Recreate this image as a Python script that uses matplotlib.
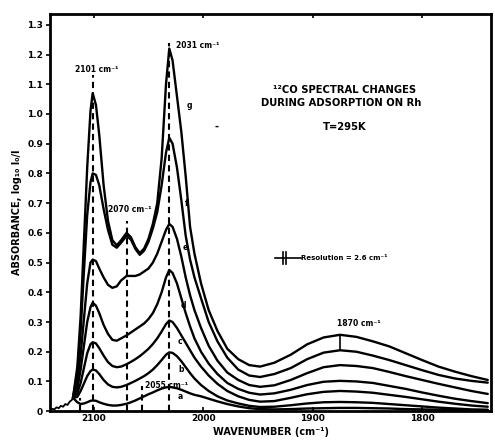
import matplotlib
matplotlib.use("Agg")
import matplotlib.pyplot as plt

plt.rcParams['font.family'] = ['DejaVu Sans']
plt.rcParams['font.weight'] = 'bold'

# ---- data ----
wavenumber = [2119, 2115, 2112, 2109, 2106, 2103, 2101, 2098, 2095, 2091,
              2087, 2083, 2079, 2075, 2070, 2066, 2062, 2058, 2054, 2050,
              2046, 2042, 2038, 2034, 2031, 2028, 2024, 2020, 2016, 2012,
              2008, 2002, 1995, 1987, 1978, 1968, 1958, 1948, 1935, 1920,
              1905, 1890, 1875, 1860, 1845, 1830, 1815, 1800, 1785, 1770,
              1755, 1740]

curve_g = [0.045, 0.15, 0.32, 0.57, 0.82, 1.01, 1.07, 1.03, 0.93, 0.76,
           0.64, 0.575, 0.558, 0.575, 0.60, 0.585, 0.552, 0.532, 0.547, 0.58,
           0.63, 0.70, 0.85, 1.10, 1.22, 1.18, 1.06, 0.94, 0.79, 0.62,
           0.53, 0.43, 0.34, 0.27, 0.21, 0.175, 0.155, 0.15, 0.163, 0.19,
           0.225, 0.248, 0.257, 0.25, 0.235, 0.218, 0.195, 0.172, 0.15, 0.133,
           0.118, 0.105]
curve_f = [0.045, 0.13, 0.27, 0.47, 0.66, 0.77, 0.80, 0.795, 0.76, 0.68,
           0.61, 0.56, 0.55, 0.567, 0.59, 0.577, 0.546, 0.526, 0.54, 0.57,
           0.615, 0.67, 0.76, 0.87, 0.92, 0.90, 0.82, 0.71, 0.59, 0.51,
           0.45, 0.38, 0.30, 0.235, 0.18, 0.14, 0.12, 0.115, 0.125, 0.145,
           0.175, 0.197, 0.205, 0.20, 0.187, 0.172, 0.155, 0.138, 0.122, 0.11,
           0.102, 0.096]
curve_e = [0.045, 0.10, 0.19, 0.31, 0.43, 0.50, 0.51, 0.505, 0.48, 0.45,
           0.425, 0.415, 0.42, 0.44, 0.455, 0.455, 0.455, 0.46, 0.47, 0.48,
           0.50, 0.53, 0.57, 0.61, 0.63, 0.62, 0.58, 0.52, 0.45, 0.39,
           0.34, 0.28, 0.22, 0.17, 0.13, 0.105, 0.088, 0.082, 0.087, 0.105,
           0.128, 0.148, 0.155, 0.152, 0.145, 0.132, 0.118, 0.105, 0.092, 0.08,
           0.068, 0.058]
curve_d = [0.045, 0.075, 0.14, 0.22, 0.30, 0.35, 0.365, 0.355, 0.33, 0.29,
           0.26, 0.24, 0.237, 0.245, 0.255, 0.265, 0.275, 0.285, 0.295, 0.31,
           0.33, 0.36, 0.40, 0.45, 0.475, 0.465, 0.43, 0.38, 0.33, 0.285,
           0.245, 0.20, 0.16, 0.125, 0.095, 0.075, 0.062, 0.056, 0.06, 0.072,
           0.088, 0.099, 0.102, 0.10, 0.095, 0.085, 0.075, 0.063, 0.052, 0.042,
           0.034, 0.027]
curve_c = [0.045, 0.06, 0.095, 0.145, 0.195, 0.225, 0.232, 0.228, 0.212, 0.187,
           0.165, 0.152, 0.148, 0.15, 0.158, 0.166, 0.175, 0.185, 0.197, 0.21,
           0.226, 0.245, 0.268, 0.293, 0.305, 0.30, 0.28, 0.255, 0.23, 0.205,
           0.18, 0.15, 0.12, 0.092, 0.068, 0.05, 0.038, 0.032, 0.034, 0.045,
           0.057, 0.065, 0.068, 0.066, 0.062, 0.055, 0.048, 0.04, 0.032, 0.025,
           0.019, 0.015]
curve_b = [0.045, 0.048, 0.068, 0.093, 0.118, 0.135, 0.14, 0.137, 0.125, 0.105,
           0.09, 0.082, 0.08, 0.082, 0.088, 0.095, 0.102, 0.11, 0.118, 0.128,
           0.14, 0.155, 0.172, 0.19, 0.198, 0.196, 0.185, 0.168, 0.148, 0.128,
           0.11, 0.088, 0.068, 0.05, 0.036, 0.026, 0.018, 0.014, 0.015, 0.02,
           0.026, 0.03, 0.031, 0.03, 0.028, 0.024, 0.02, 0.016, 0.012, 0.009,
           0.006, 0.005]
curve_a = [0.045, 0.03, 0.024, 0.026, 0.03, 0.035, 0.036, 0.035, 0.03, 0.025,
           0.021, 0.019, 0.019, 0.021, 0.025, 0.03, 0.036, 0.043, 0.05, 0.057,
           0.063, 0.07, 0.076, 0.08, 0.082, 0.08, 0.077, 0.072, 0.066, 0.06,
           0.055, 0.05, 0.042, 0.033, 0.024, 0.016, 0.01, 0.007, 0.006, 0.007,
           0.009, 0.01, 0.011, 0.011, 0.01, 0.009, 0.007, 0.006, 0.005, 0.004,
           0.003, 0.002]

# noisy common baseline before the 2101 band
baseline_w = [2140, 2138, 2136, 2134, 2132, 2130, 2128, 2126, 2124, 2122, 2120, 2119]
baseline_abs = [0.004, 0.008, 0.006, 0.013, 0.010, 0.018, 0.015, 0.024, 0.021, 0.032, 0.038, 0.045]

curves = {"a": curve_a, "b": curve_b, "c": curve_c, "d": curve_d,
          "e": curve_e, "f": curve_f, "g": curve_g}

# curve letter labels (wavenumber, absorbance)
letter_names = ["a", "b", "c", "d", "e", "f", "g"]
letter_w = [2023, 2023, 2023, 2021, 2019, 2017, 2015]
letter_abs = [0.05, 0.14, 0.235, 0.355, 0.55, 0.70, 1.03]

# dashed marker lines
dash_w = [2113, 2101, 2070, 2056, 2031]
dash_top = [0.045, 1.13, 0.64, 0.085, 1.24]

# peak annotations
peak_text = ["2101 cm⁻¹", "2031 cm⁻¹", "2070 cm⁻¹", "1870 cm⁻¹", "2055 cm⁻¹"]
peak_w = [2097, 2025, 2067, 1858, 2053]
peak_abs = [1.15, 1.232, 0.677, 0.295, 0.088]
peak_ha = ["center", "left", "center", "center", "left"]

x_ticks = [2100, 2000, 1900, 1800]
y_ticks = [0, 0.1, 0.2, 0.3, 0.4, 0.5, 0.6, 0.7, 0.8, 0.9, 1.0, 1.1, 1.2, 1.3]
y_tick_labels = ["0", "0.1", "0.2", "0.3", "0.4", "0.5", "0.6", "0.7", "0.8",
                 "0.9", "1.0", "1.1", "1.2", "1.3"]

band_index = wavenumber.index(1875)
resolution_w = [1934, 1911]
resolution_bars = [1927, 1924.4]

# ---- figure ----
fig = plt.figure(figsize=(4.95, 4.45), dpi=100)
ax = fig.add_axes([0.101, 0.076, 0.891, 0.893])
ax.set_xlim(2140, 1737)
ax.set_ylim(0, 1.337)

lw = 1.7
ax.plot(baseline_w, baseline_abs, color="black", lw=1.3, solid_joinstyle="round")
for name, vals in curves.items():
    ax.plot(wavenumber, vals, color="black", lw=lw, solid_joinstyle="round",
            solid_capstyle="round")

for w, top in zip(dash_w, dash_top):
    ax.plot([w, w], [0, top], color="black", lw=1.5, dashes=(3, 2))

for n, w, a in zip(letter_names, letter_w, letter_abs):
    ax.text(w, a, n, fontsize=5.5, fontweight="bold", ha="left", va="center")

for t, w, a, ha in zip(peak_text, peak_w, peak_abs, peak_ha):
    ax.text(w, a, t, fontsize=5.5, fontweight="bold", ha=ha, va="center")

# 1870 marker between top two curves
ax.plot([wavenumber[band_index]] * 2, [curve_f[band_index], curve_g[band_index]],
        color="black", lw=1.2)

# resolution indicator
ax.plot(resolution_w, [0.515, 0.515], color="black", lw=1.2)
for rb in resolution_bars:
    ax.plot([rb, rb], [0.495, 0.535], color="black", lw=1.2)
ax.text(1911, 0.515, "Resolution = 2.6 cm⁻¹", fontsize=5, fontweight="bold",
        ha="left", va="center")

ax.text(1988, 0.956, "-", fontsize=7, fontweight="bold", ha="center", va="center")

# title block
ax.text(0.669, 0.808, "¹²CO SPECTRAL CHANGES", transform=ax.transAxes,
        fontsize=7.2, fontweight="bold", ha="center", va="center")
ax.text(0.660, 0.776, "DURING ADSORPTION ON Rh", transform=ax.transAxes,
        fontsize=7.2, fontweight="bold", ha="center", va="center")
ax.text(0.669, 0.715, "T=295K", transform=ax.transAxes,
        fontsize=7.2, fontweight="bold", ha="center", va="center")

ax.set_xticks(x_ticks)
ax.set_xticklabels([str(t) for t in x_ticks], fontsize=6.5, fontweight="bold")
ax.set_yticks(y_ticks)
ax.set_yticklabels(y_tick_labels, fontsize=6.5, fontweight="bold")
ax.tick_params(axis="x", direction="in", length=3, width=1.2, pad=2, top=True)
ax.tick_params(axis="y", direction="out", length=3, width=1.2, pad=2)

ax.set_xlabel("WAVENUMBER (cm⁻¹)", fontsize=7, fontweight="bold", labelpad=3)
ax.set_ylabel("ABSORBANCE, log₁₀ I₀/I", fontsize=7, fontweight="bold", labelpad=4)

for s in ax.spines.values():
    s.set_linewidth(2.0)

fig.savefig("out.png", dpi=100)
